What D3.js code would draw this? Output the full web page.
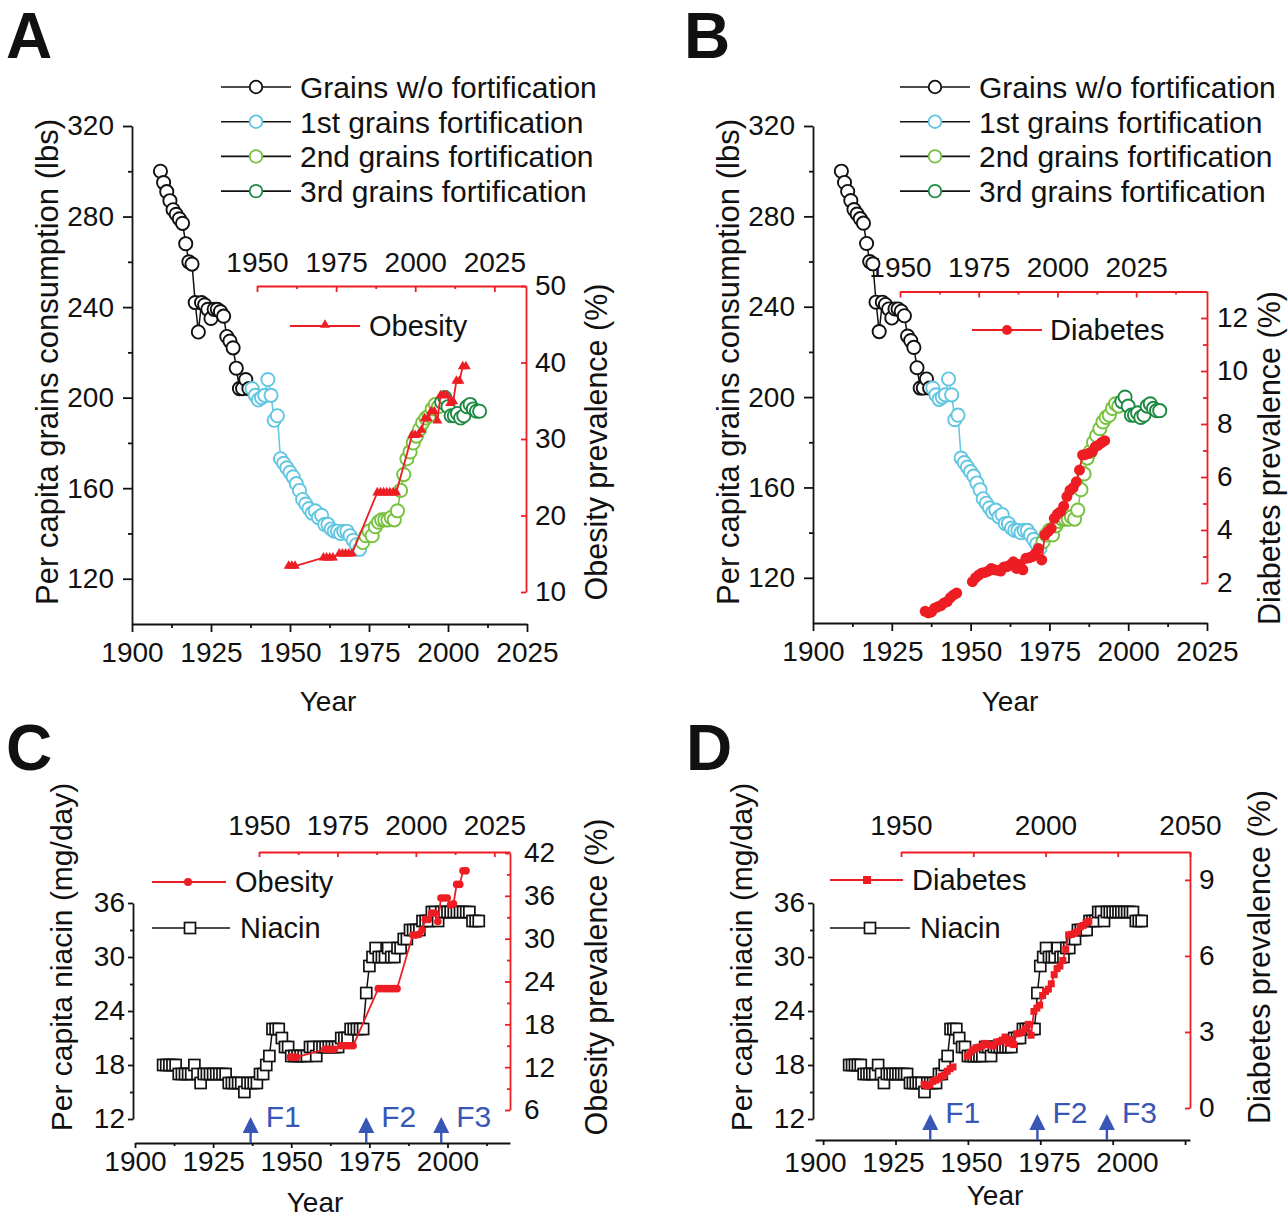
<!DOCTYPE html>
<html>
<head>
<meta charset="utf-8">
<script src="https://cdn.jsdelivr.net/npm/d3@7"></script>
<style>
  body { margin: 0; background: #fff; }
  svg text { font-family: "Liberation Sans", Arial, sans-serif; fill: #111; }
</style>
</head>
<body>
<svg id="fig" width="1288" height="1220"></svg>
<script>
// ---- data ----
const grainsNoFort = [[1909,300],[1910,295],[1911,291],[1912,287],[1913,283],[1914,281],[1915,279],[1916,277],[1917,268],[1918,260],[1919,259],[1920,242],[1921,229],[1922,242],[1923,241],[1924,239],[1925,235],[1926,239],[1927,239],[1928,238],[1929,236],[1930,227],[1931,225],[1932,222],[1933,213],[1934,204],[1935,204],[1936,208],[1937,204]];
const grainsFort1 = [[1938,204],[1939,201],[1940,199],[1941,200],[1942,201],[1943,208],[1944,201],[1945,190],[1946,192],[1947,173],[1948,171],[1949,169],[1950,167],[1951,165],[1952,162],[1953,159],[1954,155],[1955,153],[1956,151],[1957,149],[1958,150],[1959,147],[1960,148],[1961,144],[1962,144],[1963,142],[1964,141],[1965,141],[1966,140],[1967,141],[1968,141],[1969,139],[1970,137],[1971,135],[1972,133]];
const grainsFort2 = [[1973,136],[1974,139],[1975,141],[1976,139],[1977,143],[1978,145],[1979,146],[1980,146],[1981,146],[1982,147],[1983,146],[1984,150],[1985,159],[1986,166],[1987,173],[1988,176],[1989,180],[1990,183],[1991,186],[1992,189],[1993,191],[1994,192],[1995,195],[1996,197],[1997,196]];
const grainsFort3 = [[1998,198],[1999,200],[2000,196],[2001,192],[2002,192],[2003,193],[2004,191],[2005,192],[2006,196],[2007,197],[2008,195],[2009,194],[2010,194]];

const obesity = [[1960,13.4],[1961,13.4],[1962,13.4],[1971,14.5],[1972,14.5],[1973,14.5],[1974,14.5],[1976,15.0],[1977,15.0],[1978,15.0],[1979,15.0],[1980,15.0],[1988,23.0],[1989,23.0],[1990,23.0],[1991,23.0],[1992,23.0],[1993,23.0],[1994,23.0],[1999,30.5],[2000,30.5],[2001,30.6],[2002,31.2],[2003,32.7],[2004,32.7],[2005,33.6],[2006,33.6],[2007,32.4],[2008,35.7],[2009,35.7],[2010,35.7],[2011,34.7],[2012,34.9],[2013,37.6],[2014,37.6],[2015,39.5],[2016,39.5]];

const diabetes = [[1958,0.93],[1959,0.87],[1960,0.91],[1961,1.05],[1962,1.10],[1963,1.15],[1964,1.25],[1965,1.30],[1966,1.45],[1967,1.55],[1968,1.62],[1973,2.05],[1974,2.20],[1975,2.30],[1976,2.38],[1977,2.40],[1978,2.45],[1979,2.55],[1980,2.50],[1981,2.48],[1982,2.45],[1983,2.60],[1984,2.62],[1985,2.68],[1986,2.80],[1987,2.55],[1988,2.70],[1989,2.50],[1990,2.93],[1991,2.95],[1992,3.00],[1993,3.12],[1994,3.30],[1995,2.87],[1996,3.81],[1997,3.94],[1998,4.06],[1999,4.44],[2000,4.60],[2001,4.69],[2002,4.90],[2003,5.26],[2004,5.50],[2005,5.60],[2006,5.82],[2007,6.26],[2008,6.83],[2009,6.85],[2010,6.90],[2011,6.95],[2012,7.14],[2013,7.20],[2014,7.30],[2015,7.37]];

const niacin = [[1909,18],[1910,18],[1911,18],[1912,18],[1913,18],[1914,17],[1915,17],[1916,17],[1917,17],[1918,17],[1919,18],[1920,17],[1921,16],[1922,17],[1923,17],[1924,17],[1925,17],[1926,17],[1927,17],[1928,17],[1929,17],[1930,16],[1931,16],[1932,16],[1933,16],[1934,16],[1935,15],[1936,16],[1937,16],[1938,16],[1939,16],[1940,17],[1941,17],[1942,18],[1943,19],[1944,22],[1945,22],[1946,22],[1947,21],[1948,20],[1949,20],[1950,19],[1951,19],[1952,19],[1953,19],[1954,19],[1955,19],[1956,20],[1957,20],[1958,19],[1959,20],[1960,20],[1961,20],[1962,20],[1963,20],[1964,20],[1965,20],[1966,21],[1967,21],[1968,21],[1969,22],[1970,22],[1971,22],[1972,22],[1973,22],[1974,26],[1975,29],[1976,30],[1977,31],[1978,30],[1979,30],[1980,30],[1981,31],[1982,30],[1983,30],[1984,31],[1985,31],[1986,32],[1987,32],[1988,33],[1989,33],[1990,33],[1991,33],[1992,34],[1993,34],[1994,34],[1995,35],[1996,35],[1997,34],[1998,35],[1999,35],[2000,35],[2001,35],[2002,35],[2003,35],[2004,35],[2005,35],[2006,35],[2007,35],[2008,34],[2009,34],[2010,34]];

const fortYears = [1937, 1974, 1998];
const fortLabels = ["F1", "F2", "F3"];
const grainLegend = ["Grains w/o fortification", "1st grains fortification", "2nd grains fortification", "3rd grains fortification"];

const RED = "#ee1d24", CYAN = "#62c6e0", LGREEN = "#76c13d", DGREEN = "#1d8a44", BLUE = "#3856b6", INK = "#111";
const grainSeries = [
  { data: grainsNoFort, color: INK },
  { data: grainsFort1, color: CYAN },
  { data: grainsFort2, color: LGREEN },
  { data: grainsFort3, color: DGREEN }
];

const svg = d3.select("#fig");
const yearFmt = d3.format("d");

// ---- helpers ----
function addAxis(gen, tx, ty, color) {
  const g = svg.append("g").attr("transform", `translate(${tx},${ty})`).call(gen);
  g.attr("font-size", null).attr("font-family", null);
  g.select(".domain").attr("stroke", color).attr("stroke-width", 1.8);
  g.selectAll(".tick line").attr("stroke", color).attr("stroke-width", 1.8);
  g.selectAll(".tick text").attr("fill", INK).attr("font-size", 28);
  return g;
}
function addMinor(gen, tx, ty, color) {
  const g = svg.append("g").attr("transform", `translate(${tx},${ty})`).call(gen.tickFormat(() => ""));
  g.select(".domain").remove();
  g.selectAll(".tick line").attr("stroke", color).attr("stroke-width", 1.8);
  return g;
}
function label(txt, x, y, size, rot, anchor) {
  svg.append("text")
    .attr("transform", `translate(${x},${y})` + (rot ? ` rotate(${rot})` : ""))
    .attr("text-anchor", anchor || "middle")
    .attr("font-size", size)
    .text(txt);
}
function panelLetter(txt, x, y) {
  svg.append("text").attr("x", x).attr("y", y).attr("font-size", 64).attr("font-weight", "bold").text(txt);
}

function drawGrains(x, y) {
  grainSeries.forEach(s => {
    svg.append("path").datum(s.data)
      .attr("d", d3.line().x(d => x(d[0])).y(d => y(d[1])))
      .attr("fill", "none").attr("stroke", s.color).attr("stroke-width", 1.5);
    svg.append("g").selectAll("circle").data(s.data).join("circle")
      .attr("cx", d => x(d[0])).attr("cy", d => y(d[1])).attr("r", 6.6)
      .attr("fill", "#fff").attr("stroke", s.color).attr("stroke-width", 1.9);
  });
}
function grainLegendAt(x0, y0) {
  grainSeries.forEach((s, i) => {
    const y = y0 + i * 34.7;
    svg.append("line").attr("x1", x0).attr("x2", x0 + 70).attr("y1", y).attr("y2", y)
      .attr("stroke", INK).attr("stroke-width", 1.6);
    svg.append("circle").attr("cx", x0 + 35).attr("cy", y).attr("r", 6.3)
      .attr("fill", "#fff").attr("stroke", s.color).attr("stroke-width", 1.8);
    svg.append("text").attr("x", x0 + 79).attr("y", y + 11).attr("font-size", 30).text(grainLegend[i]);
  });
}
function redLine(data, x, y) {
  svg.append("path").datum(data)
    .attr("d", d3.line().x(d => x(d[0])).y(d => y(d[1])))
    .attr("fill", "none").attr("stroke", RED).attr("stroke-width", 1.8);
}
function niacinLine(x, y) {
  svg.append("path").datum(niacin)
    .attr("d", d3.line().x(d => x(d[0])).y(d => y(d[1])))
    .attr("fill", "none").attr("stroke", INK).attr("stroke-width", 1.5);
  svg.append("g").selectAll("rect").data(niacin).join("rect")
    .attr("x", d => x(d[0]) - 5.5).attr("y", d => y(d[1]) - 5.5).attr("width", 11).attr("height", 11)
    .attr("fill", "#fff").attr("stroke", INK).attr("stroke-width", 1.7);
}
function arrows(x, tipY, baseY, textY) {
  fortYears.forEach((yr, i) => {
    const cx = x(yr);
    svg.append("line").attr("x1", cx).attr("x2", cx).attr("y1", tipY + 10).attr("y2", baseY)
      .attr("stroke", BLUE).attr("stroke-width", 2.4);
    svg.append("path").attr("d", `M${cx},${tipY} L${cx + 8},${tipY + 16} L${cx - 8},${tipY + 16} Z`).attr("fill", BLUE);
    svg.append("text").attr("x", cx + 15).attr("y", textY).attr("font-size", 30)
      .style("fill", BLUE).text(fortLabels[i]);
  });
}

// ================= Panel A =================
const xA = d3.scaleLinear([1900, 2025], [132, 527]);
const yA = d3.scaleLinear([100, 320], [624, 126]);
const xAt = d3.scaleLinear([1950, 2035], [257, 526]);
const yAr = d3.scaleLinear([10, 50], [592, 286]);

addAxis(d3.axisTop(xAt).tickValues([1950, 1975, 2000, 2025]).tickFormat(yearFmt).tickSize(-6).tickPadding(14).tickSizeOuter(0), 0, 286, RED);
addMinor(d3.axisTop(xAt).tickValues([1962.5, 1987.5, 2012.5]).tickSize(-3), 0, 286, RED);
addAxis(d3.axisRight(yAr).tickValues([10, 20, 30, 40, 50]).tickSize(-5).tickPadding(9).tickSizeOuter(0), 526, 0, RED);
addAxis(d3.axisBottom(xA).tickValues([1900, 1925, 1950, 1975, 2000, 2025]).tickFormat(yearFmt).tickSize(8).tickPadding(10).tickSizeOuter(0), 0, 624, INK);
addMinor(d3.axisBottom(xA).tickValues([1912.5, 1937.5, 1962.5, 1987.5, 2012.5]).tickSize(4), 0, 624, INK);
addAxis(d3.axisLeft(yA).tickValues([120, 160, 200, 240, 280, 320]).tickSize(9).tickPadding(9).tickSizeOuter(0), 132, 0, INK);
addMinor(d3.axisLeft(yA).tickValues([140, 180, 220, 260, 300]).tickSize(4), 132, 0, INK);

drawGrains(xA, yA);
redLine(obesity, xAt, yAr);
svg.append("g").selectAll("path").data(obesity).join("path")
  .attr("transform", d => `translate(${xAt(d[0])},${yAr(d[1])})`)
  .attr("d", d3.symbol(d3.symbolTriangle, 42)).attr("fill", RED);

grainLegendAt(221, 87);
svg.append("line").attr("x1", 290).attr("x2", 360).attr("y1", 326).attr("y2", 326).attr("stroke", RED).attr("stroke-width", 1.8);
svg.append("path").attr("transform", "translate(325,325)").attr("d", d3.symbol(d3.symbolTriangle, 42)).attr("fill", RED);
label("Obesity", 369, 336, 29, 0, "start");

label("Per capita grains consumption (lbs)", 58, 362, 31, -90);
label("Obesity prevalence (%)", 607, 442, 30.5, -90);
label("Year", 328, 711, 28);
panelLetter("A", 6, 58);

// ================= Panel B =================
const xB = d3.scaleLinear([1900, 2025], [813, 1207]);
const yB = d3.scaleLinear([100, 320], [623, 126]);
const xBt = d3.scaleLinear([1950, 2047.5], [900, 1207]);
const yBr = d3.scaleLinear([2, 13], [583, 291.5]);

addAxis(d3.axisTop(xBt).tickValues([1950, 1975, 2000, 2025]).tickFormat(yearFmt).tickSize(-6).tickPadding(15).tickSizeOuter(0), 0, 291.5, RED);
addMinor(d3.axisTop(xBt).tickValues([1962.5, 1987.5, 2012.5, 2037.5]).tickSize(-3), 0, 291.5, RED);
addAxis(d3.axisRight(yBr).tickValues([2, 4, 6, 8, 10, 12]).tickSize(-6).tickPadding(10).tickSizeOuter(0), 1207, 0, RED);
addMinor(d3.axisRight(yBr).tickValues([3, 5, 7, 9, 11]).tickSize(-4), 1207, 0, RED);
addAxis(d3.axisBottom(xB).tickValues([1900, 1925, 1950, 1975, 2000, 2025]).tickFormat(yearFmt).tickSize(8).tickPadding(10).tickSizeOuter(0), 0, 623, INK);
addMinor(d3.axisBottom(xB).tickValues([1912.5, 1937.5, 1962.5, 1987.5, 2012.5]).tickSize(4), 0, 623, INK);
addAxis(d3.axisLeft(yB).tickValues([120, 160, 200, 240, 280, 320]).tickSize(9).tickPadding(9).tickSizeOuter(0), 813, 0, INK);
addMinor(d3.axisLeft(yB).tickValues([140, 180, 220, 260, 300]).tickSize(4), 813, 0, INK);

drawGrains(xB, yB);
redLine(diabetes.filter(d => d[0] <= 1968), xBt, yBr);
redLine(diabetes.filter(d => d[0] >= 1973), xBt, yBr);
svg.append("g").selectAll("circle").data(diabetes).join("circle")
  .attr("cx", d => xBt(d[0])).attr("cy", d => yBr(d[1])).attr("r", 5.5).attr("fill", RED);

grainLegendAt(900, 87);
svg.append("line").attr("x1", 972).attr("x2", 1042).attr("y1", 330).attr("y2", 330).attr("stroke", RED).attr("stroke-width", 1.8);
svg.append("circle").attr("cx", 1007).attr("cy", 330).attr("r", 5).attr("fill", RED);
label("Diabetes", 1050, 340, 29, 0, "start");

label("Per capita grains consumption (lbs)", 739, 362, 31, -90);
label("Diabetes prevalence (%)", 1280, 458, 30.5, -90);
label("Year", 1010, 711, 28);
panelLetter("B", 684, 58);

// ================= Panel C =================
const xC = d3.scaleLinear([1900, 2020], [135, 510]);
const yC = d3.scaleLinear([12, 36], [1119, 903]);
const xCt = d3.scaleLinear([1950, 2030], [259, 510]);
const yCr = d3.scaleLinear([6, 42], [1110, 853]);

addAxis(d3.axisTop(xCt).tickValues([1950, 1975, 2000, 2025]).tickFormat(yearFmt).tickSize(-5).tickPadding(17).tickSizeOuter(0), 0, 852, RED);
addMinor(d3.axisTop(xCt).tickValues([1962.5, 1987.5, 2012.5]).tickSize(-3), 0, 852, RED);
addAxis(d3.axisRight(yCr).tickValues([6, 12, 18, 24, 30, 36, 42]).tickSize(-5).tickPadding(14).tickSizeOuter(0), 510, 0, RED);
addMinor(d3.axisRight(yCr).tickValues([9, 15, 21, 27, 33, 39]).tickSize(-3), 510, 0, RED);
addAxis(d3.axisBottom(xC).tickValues([1900, 1925, 1950, 1975, 2000]).tickFormat(yearFmt).tickSize(5).tickPadding(3).tickSizeOuter(0), 0, 1143, INK);
addMinor(d3.axisBottom(xC).tickValues([1912.5, 1937.5, 1962.5, 1987.5, 2012.5]).tickSize(3), 0, 1143, INK);
addAxis(d3.axisLeft(yC).tickValues([12, 18, 24, 30, 36]).tickSize(5).tickPadding(3).tickSizeOuter(0), 133, 0, INK);
addMinor(d3.axisLeft(yC).tickValues([15, 21, 27, 33]).tickSize(3), 133, 0, INK);

niacinLine(xC, yC);
redLine(obesity, xCt, yCr);
svg.append("g").selectAll("circle").data(obesity).join("circle")
  .attr("cx", d => xCt(d[0])).attr("cy", d => yCr(d[1])).attr("r", 3.8).attr("fill", RED);
arrows(xC, 1117, 1143, 1127);

svg.append("line").attr("x1", 152).attr("x2", 226).attr("y1", 882).attr("y2", 882).attr("stroke", RED).attr("stroke-width", 1.8);
svg.append("circle").attr("cx", 188).attr("cy", 882).attr("r", 4).attr("fill", RED);
label("Obesity", 235, 892, 29, 0, "start");
svg.append("line").attr("x1", 152).attr("x2", 230).attr("y1", 928).attr("y2", 928).attr("stroke", INK).attr("stroke-width", 1.6);
svg.append("rect").attr("x", 184.5).attr("y", 922.5).attr("width", 11).attr("height", 11).attr("fill", "#fff").attr("stroke", INK).attr("stroke-width", 1.7);
label("Niacin", 240, 938, 29, 0, "start");

label("Per capita niacin (mg/day)", 72, 957, 30, -90);
label("Obesity prevalence (%)", 607, 977, 30.5, -90);
label("Year", 315, 1212, 28);
panelLetter("C", 6, 770);

// ================= Panel D =================
const xD = d3.scaleLinear([1897.2, 2026.7], [815, 1190]);
const xDlab = d3.scaleLinear([1900, 2000], [815, 1127]);
const yD = d3.scaleLinear([12, 36], [1119, 903]);
const xDt = d3.scaleLinear([1950, 2050], [901, 1190]);
const yDr = d3.scaleLinear([0, 10.1], [1108, 852]);

addAxis(d3.axisTop(xDt).tickValues([1950, 1975, 2000, 2025, 2050]).tickFormat(d => d % 50 === 0 ? d : "").tickSize(-5).tickPadding(17).tickSizeOuter(0), 0, 852, RED);
addAxis(d3.axisRight(yDr).tickValues([0, 3, 6, 9]).tickSize(-5).tickPadding(9).tickSizeOuter(0), 1190, 0, RED);
addAxis(d3.axisBottom(xD).tickValues([1900, 1925, 1950, 1975, 2000, 2025]).tickFormat(() => "").tickSize(5).tickSizeOuter(0), 0, 1140, INK);
const dLab = addAxis(d3.axisBottom(xDlab).tickValues([1900, 1925, 1950, 1975, 2000]).tickFormat(yearFmt).tickSize(0).tickPadding(12), 0, 1140, INK);
dLab.select(".domain").remove();
addAxis(d3.axisLeft(yD).tickValues([12, 18, 24, 30, 36]).tickSize(5).tickPadding(3).tickSizeOuter(0), 813, 0, INK);
addMinor(d3.axisLeft(yD).tickValues([15, 21, 27, 33]).tickSize(3), 813, 0, INK);

niacinLine(xD, yD);
redLine(diabetes.filter(d => d[0] <= 1968), xDt, yDr);
redLine(diabetes.filter(d => d[0] >= 1973), xDt, yDr);
svg.append("g").selectAll("rect").data(diabetes).join("rect")
  .attr("x", d => xDt(d[0]) - 3.5).attr("y", d => yDr(d[1]) - 3.5).attr("width", 7).attr("height", 7).attr("fill", RED);
arrows(xD, 1114, 1140, 1123);

svg.append("line").attr("x1", 830).attr("x2", 903).attr("y1", 880).attr("y2", 880).attr("stroke", RED).attr("stroke-width", 1.8);
svg.append("rect").attr("x", 863).attr("y", 876).attr("width", 8).attr("height", 8).attr("fill", RED);
label("Diabetes", 912, 890, 29, 0, "start");
svg.append("line").attr("x1", 830).attr("x2", 910).attr("y1", 928).attr("y2", 928).attr("stroke", INK).attr("stroke-width", 1.6);
svg.append("rect").attr("x", 864.5).attr("y", 922.5).attr("width", 11).attr("height", 11).attr("fill", "#fff").attr("stroke", INK).attr("stroke-width", 1.7);
label("Niacin", 920, 938, 29, 0, "start");

label("Per capita niacin (mg/day)", 752, 957, 30, -90);
label("Diabetes prevalence (%)", 1270, 957, 30.5, -90);
label("Year", 995, 1205, 28);
panelLetter("D", 686, 770);
</script>
</body>
</html>
